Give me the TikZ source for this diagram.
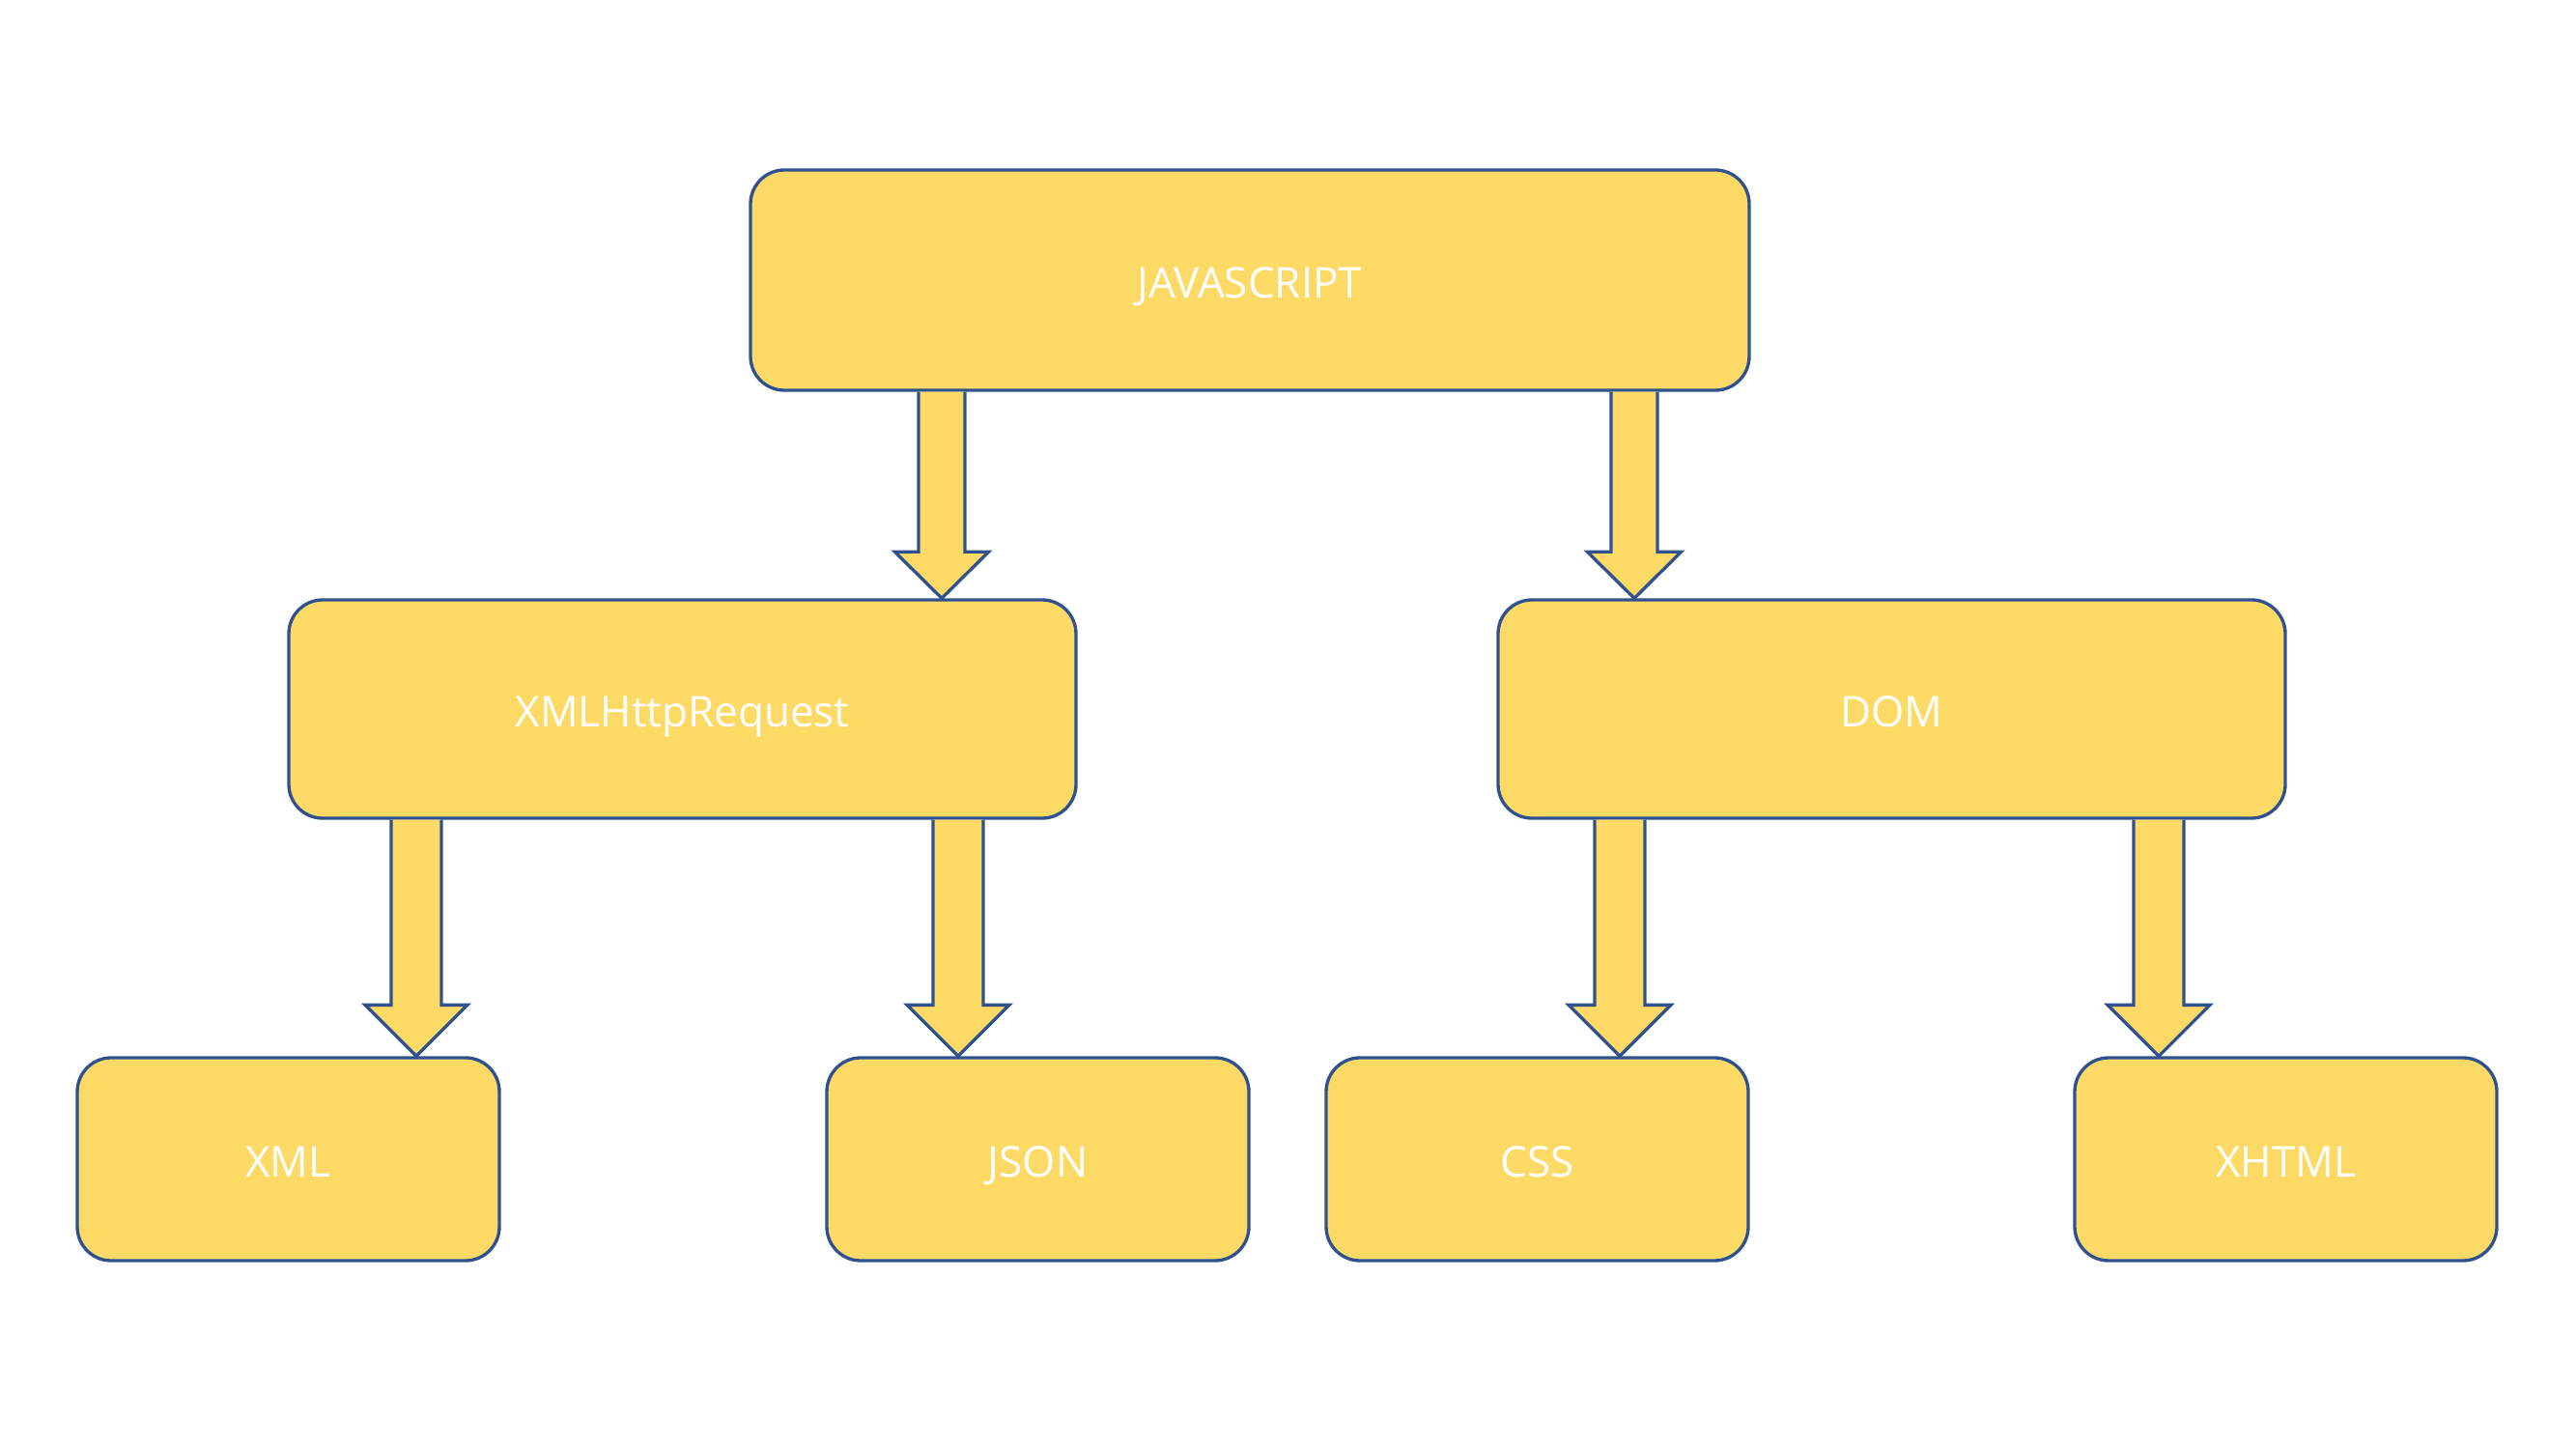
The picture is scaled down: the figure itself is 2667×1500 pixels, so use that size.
\documentclass[tikz,border=0pt]{standalone}
\usepackage{fontspec}
\setmainfont{Open Sans}
\usetikzlibrary{calc}
\definecolor{boxfill}{HTML}{FDD966}
\definecolor{boxline}{HTML}{2F528F}
\tikzset{
  box/.style={draw=boxline, fill=boxfill, line width=1pt, rounded corners=10.5pt,
    text=white, font=\fontsize{13.2}{16}\selectfont, inner sep=0pt,
    text height=11.2pt, text depth=0pt},
  arr/.style={draw=boxline, fill=boxfill, line width=1pt, line join=miter}
}
% #1 from node, #2 to node, #3 tip x (px), #4 shaft half width, #5 head half width, #6 head length
\newcommand\blockarr[6]{%
  \draw[arr] let \p1=(#1.south), \p2=(#2.north) in
    ({(#3-#4)*0.3pt},\y1) -- ({(#3-#4)*0.3pt},{\y2+#6*0.3pt}) --
    ({(#3-#5)*0.3pt},{\y2+#6*0.3pt}) -- ({#3*0.3pt},\y2) --
    ({(#3+#5)*0.3pt},{\y2+#6*0.3pt}) -- ({(#3+#4)*0.3pt},{\y2+#6*0.3pt}) --
    ({(#3+#4)*0.3pt},\y1);
}
\begin{document}
\begin{tikzpicture}[x=0.3pt,y=-0.3pt]
\useasboundingbox (0,0) rectangle (2667,1500);
\node[box, minimum width=310.2pt, minimum height=68.4pt] (js) at (1294,290) {JAVASCRIPT};
\node[box, minimum width=244.5pt, minimum height=67.8pt] (xhr) at (706.5,734) {XMLHttpRequest};
\node[box, minimum width=244.5pt, minimum height=67.8pt] (dom) at (1958.5,734) {DOM};
\node[box, minimum width=131.1pt, minimum height=63pt] (xml) at (298.5,1200) {XML};
\node[box, minimum width=131.1pt, minimum height=63pt] (json) at (1074.5,1200) {JSON};
\node[box, minimum width=131.1pt, minimum height=63pt] (css) at (1591.5,1200) {CSS};
\node[box, minimum width=131.1pt, minimum height=63pt] (xhtml) at (2366.5,1200) {XHTML};
\blockarr{js}{xhr}{975}{24}{48.5}{48}
\blockarr{js}{dom}{1692}{24}{48.5}{48}
\blockarr{xhr}{xml}{431}{26}{53}{53}
\blockarr{xhr}{json}{992}{26}{53}{53}
\blockarr{dom}{css}{1677}{26}{53}{53}
\blockarr{dom}{xhtml}{2235}{26}{53}{53}
\end{tikzpicture}
\end{document}
